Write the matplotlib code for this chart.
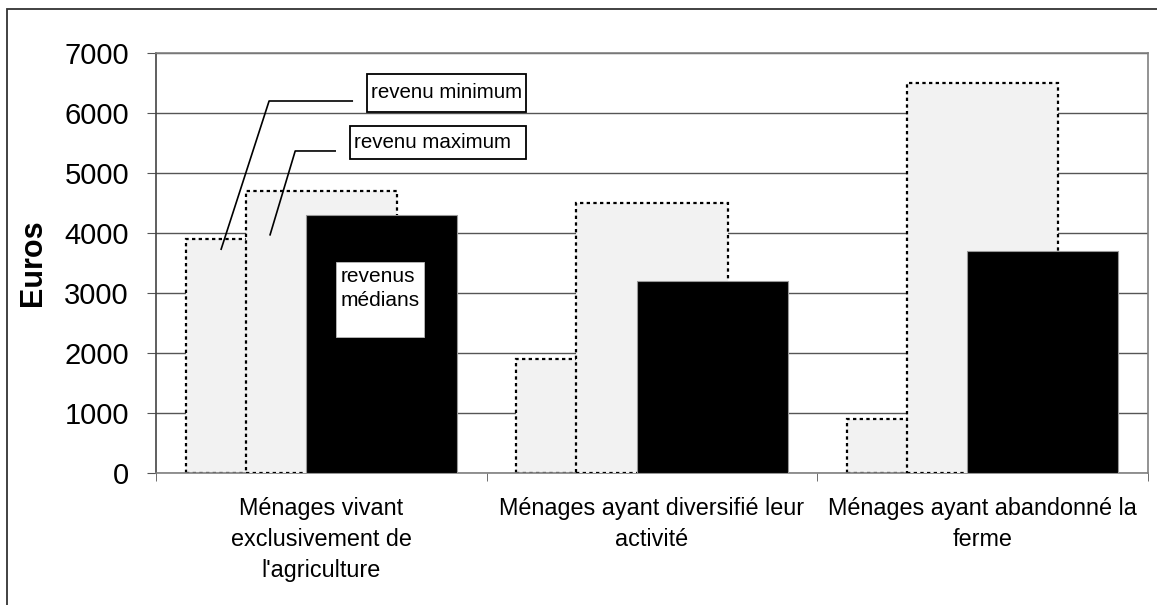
import numpy as np
import matplotlib
matplotlib.use("Agg")
import matplotlib.pyplot as plt
from matplotlib.patches import Rectangle

plt.rcParams['font.family'] = ['Liberation Sans', 'DejaVu Sans']

categories = ["Ménages vivant\nexclusivement de\nl'agriculture",
              "Ménages ayant diversifié leur\nactivité",
              "Ménages ayant abandonné la\nferme"]
rev_min = [3900, 1900, 900]
rev_max = [4700, 4500, 6500]
rev_med = [4300, 3200, 3700]

x = np.arange(len(categories))
w = 0.457
off = 0.182

fig = plt.figure(figsize=(11.57, 6.05), dpi=100)
ax = fig.add_axes([156/1157, 1 - 473/605, 992/1157, 420/605])

# outer frame (only left and top are visible in the reference)
fig.patches.append(Rectangle((7/1157, -0.1), 1.2, 1.1 - 9/605, transform=fig.transFigure,
                             fill=False, edgecolor='#333333', lw=1.3))

dots = (0, (1.5, 1.5))
ax.bar(x - off, rev_min, w, color='#f2f2f2', edgecolor='black', lw=1.6, linestyle=dots, zorder=2)
ax.bar(x, rev_max, w, color='#f2f2f2', edgecolor='black', lw=1.6, linestyle=dots, zorder=3)
ax.bar(x + off, rev_med, w, color='black', edgecolor='#999999', lw=0.8, zorder=4)

ax.set_xlim(-0.5, 2.5)
ax.set_ylim(0, 7000)
ax.set_yticks(np.arange(0, 7001, 1000))
ax.yaxis.grid(True, color='#555555', lw=1.0, zorder=0)
ax.set_axisbelow(True)

ax.set_xticks(x)
ax.set_xticklabels(categories, fontsize=16.8, linespacing=1.45)
ax.set_xticks(np.arange(-0.5, 3, 1), minor=True)
ax.tick_params(axis='x', which='major', length=0, pad=17)
ax.tick_params(axis='x', which='minor', length=6, color='#555555', direction='out')
ax.tick_params(axis='y', length=6.5, color='#555555', labelsize=21, pad=13)

for s in ax.spines.values():
    s.set_color('#808080')
    s.set_linewidth(1.2)
ax.spines['left'].set_color('#444444')

ax.set_ylabel('Euros', fontsize=22, fontweight='bold')
ax.yaxis.set_label_coords(-0.124, 0.5)
ax.yaxis.label.set_verticalalignment('center')

# annotation boxes
ax.add_patch(Rectangle((0.2129, 0.8595), 0.1604, 0.0905, transform=ax.transAxes,
                       facecolor='white', edgecolor='black', lw=1.3, zorder=6, clip_on=False))
ax.text(0.217, 0.9048, 'revenu minimum', transform=ax.transAxes, fontsize=14.8,
        va='center', ha='left', zorder=7)
ax.add_patch(Rectangle((0.1958, 0.7476), 0.1776, 0.0786, transform=ax.transAxes,
                       facecolor='white', edgecolor='black', lw=1.3, zorder=6, clip_on=False))
ax.text(0.1998, 0.787, 'revenu maximum', transform=ax.transAxes, fontsize=14.8,
        va='center', ha='left', zorder=7)

# leader lines
ax.plot([0.0934, -0.158, -0.303], [6200, 6200, 3730], color='black', lw=1.2, zorder=7)
ax.plot([0.0418, -0.079, -0.155], [5367, 5367, 3970], color='black', lw=1.2, zorder=7)

# median label inside black bar
ax.add_patch(Rectangle((0.045, 2267), 0.266, 1250, facecolor='white', edgecolor='#bbbbbb',
                       lw=0.6, zorder=6))
ax.text(0.057, 3430, 'revenus\nmédians', fontsize=15, va='top', ha='left',
        linespacing=1.3, zorder=7)

fig.savefig('out.png', dpi=100)
